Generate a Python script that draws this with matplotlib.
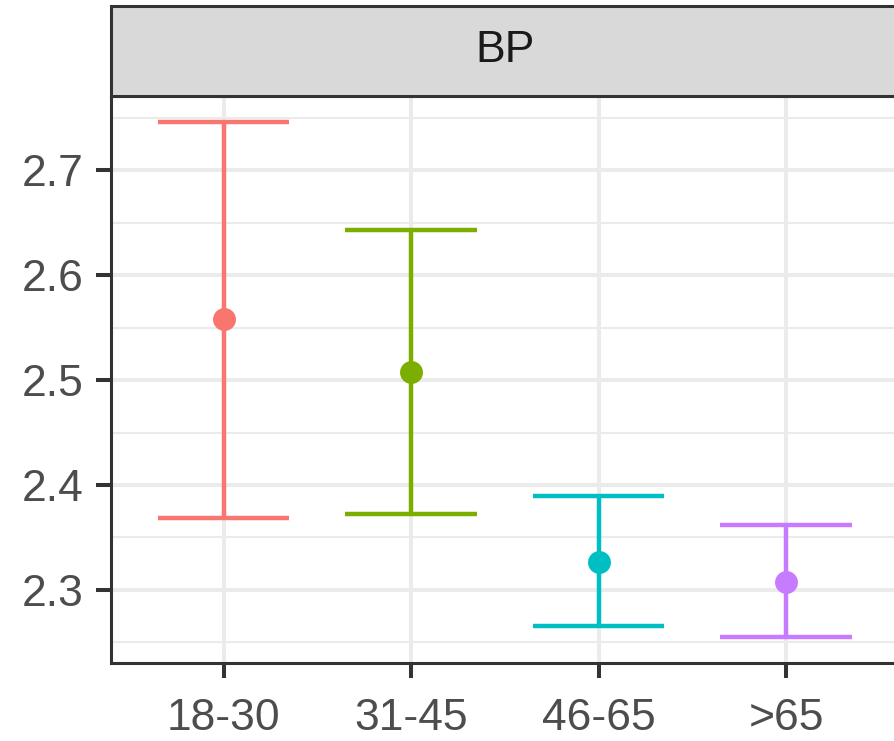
import matplotlib
matplotlib.use('Agg')
import matplotlib.pyplot as plt
from matplotlib.patches import Rectangle
from matplotlib.ticker import MultipleLocator

plt.rcParams['font.family'] = ['Liberation Sans', 'DejaVu Sans']

groups = ['18-30', '31-45', '46-65', '>65']
means = [2.558, 2.508, 2.327, 2.308]
lower = [2.369, 2.372, 2.2655, 2.255]
upper = [2.746, 2.643, 2.390, 2.3615]
colors = ['#F8766D', '#7CAE00', '#00BFC4', '#C77CFF']
facet = 'BP'

W, H = 894, 741
fig = plt.figure(figsize=(W / 100, H / 100), dpi=100)

# panel runs a little past the right edge (cropped like the reference)
px_l, px_r, px_t, px_b = 111, 898.6, 96, 663
ax = fig.add_axes([px_l / W, (H - px_b) / H, (px_r - px_l) / W, (px_b - px_t) / H])

x = list(range(1, len(groups) + 1))
cap = 0.35
lw = 3.2
for xi, m, lo, hi, c in zip(x, means, lower, upper, colors):
    ax.plot([xi, xi], [lo, hi], color=c, lw=lw, solid_capstyle='butt', zorder=3)
    ax.plot([xi - cap, xi + cap], [lo, lo], color=c, lw=lw, solid_capstyle='butt', zorder=3)
    ax.plot([xi - cap, xi + cap], [hi, hi], color=c, lw=lw, solid_capstyle='butt', zorder=3)
    ax.plot(xi, m, 'o', color=c, ms=16.5, mec='none', zorder=4)

lo_all, hi_all = min(lower), max(upper)
pad = (hi_all - lo_all) * 0.05
ax.set_ylim(lo_all - pad, hi_all + pad)
ax.set_xlim(0.4, len(groups) + 0.6)

ax.set_xticks(x)
ax.set_xticklabels(groups)
ax.yaxis.set_major_locator(MultipleLocator(0.1))
ax.yaxis.set_minor_locator(MultipleLocator(0.05))
ax.yaxis.set_major_formatter(matplotlib.ticker.FormatStrFormatter('%.1f'))

ax.grid(True, which='major', color='#EBEBEB', lw=2.9, zorder=0)
ax.grid(True, which='minor', axis='y', color='#EBEBEB', lw=1.5, zorder=0)
ax.set_axisbelow(True)

ax.tick_params(axis='both', which='major', length=11, width=2.9, color='#333333',
               labelsize=32, labelcolor='#4D4D4D')
ax.tick_params(axis='x', which='major', pad=14)
ax.tick_params(axis='y', which='major', pad=9)
ax.tick_params(axis='y', which='minor', length=0)
for s in ax.spines.values():
    s.set_color('#333333')
    s.set_linewidth(2.2)

# facet strip
st_t, st_b = 6, 96
strip = Rectangle((px_l / W, (H - st_b) / H), (px_r - px_l) / W, (st_b - st_t) / H,
                  transform=fig.transFigure, facecolor='#D9D9D9', edgecolor='#333333',
                  lw=2.2, clip_on=False)
fig.patches.append(strip)
fig.text((px_l + px_r) / 2 / W, (H - (st_t + st_b) / 2) / H, facet,
         ha='center', va='center', fontsize=32, color='#1A1A1A')

fig.savefig('out.png', dpi=100)
